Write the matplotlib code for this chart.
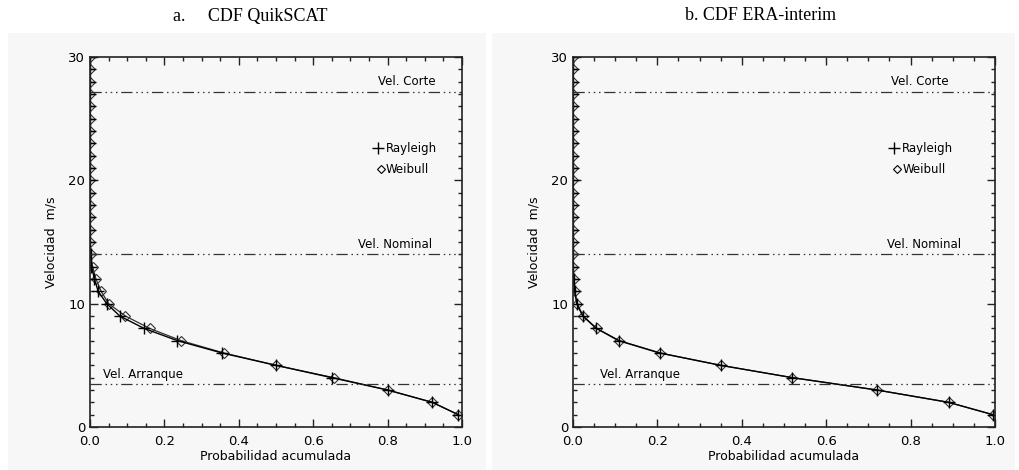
import matplotlib
matplotlib.use("Agg")
import matplotlib.pyplot as plt
from matplotlib.patches import Rectangle
from matplotlib.ticker import MultipleLocator

# velocidades (m/s) evaluadas: 1..30
vel = list(range(1, 31))

# probabilidad acumulada (QuikSCAT)
qs_rayleigh = [0.99, 0.92, 0.80, 0.65, 0.50, 0.355, 0.235, 0.145, 0.08, 0.045,
               0.022, 0.012, 0.004, 0.0015] + [0.0] * 16
qs_weibull = [0.99, 0.92, 0.80, 0.655, 0.50, 0.36, 0.245, 0.16, 0.095, 0.05,
              0.03, 0.016, 0.007, 0.002] + [0.0] * 16

# ERA-interim
era_rayleigh = [0.995, 0.89, 0.72, 0.52, 0.35, 0.205, 0.108, 0.055, 0.023, 0.009,
                0.004, 0.0015] + [0.0] * 18
era_weibull = [0.995, 0.89, 0.72, 0.52, 0.35, 0.207, 0.11, 0.056, 0.024, 0.01,
               0.004, 0.0015] + [0.0] * 18

# velocidades de referencia de la turbina
v_corte = 27.2
v_nominal = 14.0
v_arranque = 3.5

titles = ["a.     CDF QuikSCAT", "b. CDF ERA-interim"]

DASH3 = (0, (9, 3, 1.2, 3, 1.2, 3, 1.2, 3))
FONT = "DejaVu Sans"

fig = plt.figure(figsize=(10.2, 4.7), dpi=100)
W, H = 1020, 470

# paneles grises de fondo
for x0, x1 in [(8, 486), (492, 1015)]:
    fig.patches.append(Rectangle((x0 / W, 0), (x1 - x0) / W, (470 - 33) / H,
                                 transform=fig.transFigure, facecolor="#f7f7f7",
                                 edgecolor="none", zorder=-5))

axes_px = [(90, 462), (573, 995)]
datasets = [(qs_rayleigh, qs_weibull), (era_rayleigh, era_weibull)]
labels_x = [
    {"corte": 0.93, "nominal": 0.92, "arranque": 0.035, "leg": 0.77},
    {"corte": 0.89, "nominal": 0.92, "arranque": 0.065, "leg": 0.755},
]
title_x = [250, 761]

for i, ((px0, px1), (ray, wei)) in enumerate(zip(axes_px, datasets)):
    ax = fig.add_axes([px0 / W, (470 - 427) / H, (px1 - px0) / W, (427 - 57) / H])
    ax.set_facecolor("#f7f7f7")
    ax.set_xlim(0, 1)
    ax.set_ylim(0, 30)

    ax.plot(wei, vel, color="#333333", lw=0.9, marker="D", ms=5.5, mfc="none",
            mec="#333333", mew=0.8)
    ax.plot(ray, vel, color="black", lw=1.0, marker="+", ms=8, mew=1.0)

    for yv in (v_corte, v_nominal, v_arranque):
        ax.axhline(yv, color="#333333", lw=0.9, ls=DASH3)

    lx = labels_x[i]
    ax.text(lx["corte"], v_corte + 0.3, "Vel. Corte", ha="right", va="bottom",
            fontsize=8.5, family=FONT)
    ax.text(lx["nominal"], v_nominal + 0.3, "Vel. Nominal", ha="right",
            va="bottom", fontsize=8.5, family=FONT)
    ax.text(lx["arranque"], v_arranque + 0.2, "Vel. Arranque", ha="left",
            va="bottom", fontsize=8.5, family=FONT)

    ax.plot([lx["leg"] + 0.005], [22.6], marker="+", color="black", ms=8, mew=1.0)
    ax.text(lx["leg"] + 0.025, 22.6, "Rayleigh", va="center", fontsize=8.5,
            family=FONT)
    ax.plot([lx["leg"] + 0.012], [20.9], marker="D", ms=4, mfc="none",
            mec="black", mew=0.8)
    ax.text(lx["leg"] + 0.025, 20.9, "Weibull", va="center", fontsize=8.5,
            family=FONT)

    ax.xaxis.set_major_locator(MultipleLocator(0.2))
    ax.xaxis.set_minor_locator(MultipleLocator(0.05))
    ax.yaxis.set_major_locator(MultipleLocator(10))
    ax.yaxis.set_minor_locator(MultipleLocator(1))
    ax.tick_params(which="both", direction="in", top=True, right=True,
                   width=1.0, color="#222222", labelsize=9.5)
    ax.tick_params(which="major", length=6)
    ax.tick_params(which="minor", length=3)
    ax.tick_params(axis="x", pad=6)
    ax.set_xticklabels([f"{v:.1f}" for v in ax.get_xticks()])
    for sp in ax.spines.values():
        sp.set_linewidth(1.2)
        sp.set_color("#222222")
    for lab in ax.get_xticklabels() + ax.get_yticklabels():
        lab.set_family(FONT)
    ax.set_xlabel("Probabilidad acumulada", fontsize=9, family=FONT, labelpad=1)
    ax.set_ylabel("Velocidad  m/s", fontsize=9, family=FONT, labelpad=8)

    fig.text(title_x[i] / W, 1 - 16 / H, titles[i], ha="center", va="center",
             fontsize=13, family="Liberation Serif")

fig.savefig("out.png", dpi=100)
